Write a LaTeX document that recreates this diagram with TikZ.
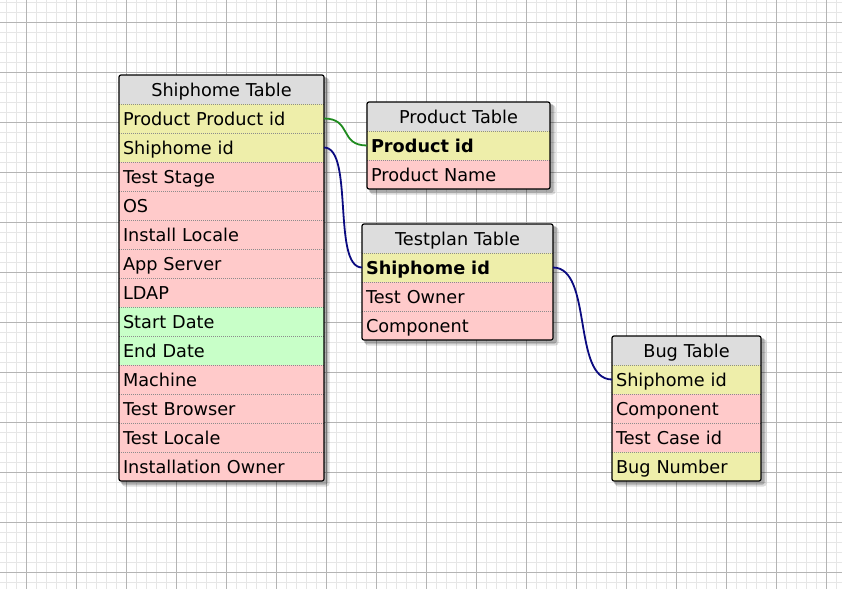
\documentclass[tikz,border=0pt]{standalone}
\usepackage{fontspec}
\setmainfont{DejaVu Sans}
\usetikzlibrary{calc}
\pgfdeclarelayer{gridlayer}
\pgfdeclarelayer{shadowlayer}
\pgfsetlayers{gridlayer,shadowlayer,main}
\definecolor{hdrc}{HTML}{DDDDDD}
\definecolor{yelc}{HTML}{EEEEAA}
\definecolor{pinkc}{HTML}{FFCACA}
\definecolor{grnc}{HTML}{C8FFC8}
\definecolor{minorc}{HTML}{E6E6E6}
\definecolor{majorc}{HTML}{B4B4B4}
\definecolor{sepc}{HTML}{8C8C8C}
\definecolor{linkg}{HTML}{1E8A1E}
\definecolor{linkb}{HTML}{0A0A80}
\tikzset{
  rowbox/.style={rectangle, inner xsep=4pt, inner ysep=0pt, outer sep=0pt, minimum height=29pt,
    text height=17pt, text depth=4pt, align=left, anchor=north west,
    font=\fontsize{17.7}{20}\selectfont},
  hdrbox/.style={rowbox, fill=hdrc, align=center},
  shipw/.style={text width=197pt},
  prodw/.style={text width=175pt},
  testw/.style={text width=183pt},
  bugw/.style={text width=141pt},
  ye/.style={fill=yelc}, pk/.style={fill=pinkc}, gr/.style={fill=grnc},
  sepline/.style={draw=sepc, line width=0.8pt, dash pattern=on 1pt off 1pt},
  frame/.style={draw=black, line width=1.2pt, rounded corners=2pt},
  shade1/.style={fill=black, opacity=0.14, rounded corners=3pt},
  shade2/.style={fill=black, opacity=0.22, rounded corners=2pt},
  minorl/.style={draw=minorc, line width=1pt},
  majorl/.style={draw=majorc, line width=1pt},
  link/.style={line width=1.8pt},
}
\begin{document}
\begin{tikzpicture}[x=1pt,y=-1pt]
\useasboundingbox (0,0) rectangle (842,589);
\begin{pgfonlayer}{gridlayer}
  \fill[white] (0,0) rectangle (842,589);
  \foreach \x in {6,16,...,836} \draw[minorl] (\x,0) -- (\x,589);
  \foreach \y in {2,12,...,582} \draw[minorl] (0,\y) -- (842,\y);
  \foreach \x in {26,76,...,826} \draw[majorl] (\x,0) -- (\x,589);
  \foreach \y in {22,72,...,572} \draw[majorl] (0,\y) -- (842,\y);
\end{pgfonlayer}

% Shiphome Table
\node[hdrbox, shipw] (sh) at (119,75) {Shiphome Table};
\node[rowbox, shipw, ye] (s1) at (sh.south west) {Product Product id};
\node[rowbox, shipw, ye] (s2) at (s1.south west) {Shiphome id};
\node[rowbox, shipw, pk] (s3) at (s2.south west) {Test Stage};
\node[rowbox, shipw, pk] (s4) at (s3.south west) {OS};
\node[rowbox, shipw, pk] (s5) at (s4.south west) {Install Locale};
\node[rowbox, shipw, pk] (s6) at (s5.south west) {App Server};
\node[rowbox, shipw, pk] (s7) at (s6.south west) {LDAP};
\node[rowbox, shipw, gr] (s8) at (s7.south west) {Start Date};
\node[rowbox, shipw, gr] (s9) at (s8.south west) {End Date};
\node[rowbox, shipw, pk] (s10) at (s9.south west) {Machine};
\node[rowbox, shipw, pk] (s11) at (s10.south west) {Test Browser};
\node[rowbox, shipw, pk] (s12) at (s11.south west) {Test Locale};
\node[rowbox, shipw, pk] (s13) at (s12.south west) {Installation Owner};

% Product Table
\node[hdrbox, prodw] (ph) at (367,102) {Product Table};
\node[rowbox, prodw, ye, font=\fontsize{17.7}{20}\selectfont\bfseries] (p1) at (ph.south west) {Product id};
\node[rowbox, prodw, pk] (p2) at (p1.south west) {Product Name};

% Testplan Table
\node[hdrbox, testw] (th) at (362,224) {Testplan Table};
\node[rowbox, testw, ye, font=\fontsize{17.7}{20}\selectfont\bfseries] (t1) at (th.south west) {Shiphome id};
\node[rowbox, testw, pk] (t2) at (t1.south west) {Test Owner};
\node[rowbox, testw, pk] (t3) at (t2.south west) {Component};

% Bug Table
\node[hdrbox, bugw] (bh) at (612,336) {Bug Table};
\node[rowbox, bugw, ye] (b1) at (bh.south west) {Shiphome id};
\node[rowbox, bugw, pk] (b2) at (b1.south west) {Component};
\node[rowbox, bugw, pk] (b3) at (b2.south west) {Test Case id};
\node[rowbox, bugw, ye] (b4) at (b3.south west) {Bug Number};

% separators
\foreach \n in {sh,s1,s2,s3,s4,s5,s6,s7,s8,s9,s10,s11,s12,ph,p1,th,t1,t2,bh,b1,b2,b3}
  \draw[sepline] (\n.south west) -- (\n.south east);

% shadows and frames
\foreach \h/\l in {sh/s13,ph/p2,th/t3,bh/b4}{
  \begin{pgfonlayer}{shadowlayer}
    \fill[shade1] ($(\h.north west)+(3,3)$) rectangle ($(\l.south east)+(5.5,5.5)$);
    \fill[shade2] ($(\h.north west)+(2,2)$) rectangle ($(\l.south east)+(3.5,3.5)$);
  \end{pgfonlayer}
  \draw[frame] (\h.north west) rectangle (\l.south east);
}

% connectors
\draw[link, linkg] (s1.east) .. controls +(28,0) and +(-28,0) .. (p1.west);
\draw[link, linkb] (s2.east) .. controls +(30,0) and +(-30,0) .. (t1.west);
\draw[link, linkb] (t1.east) .. controls +(40,0) and +(-40,0) .. (b1.west);
\end{tikzpicture}
\end{document}
